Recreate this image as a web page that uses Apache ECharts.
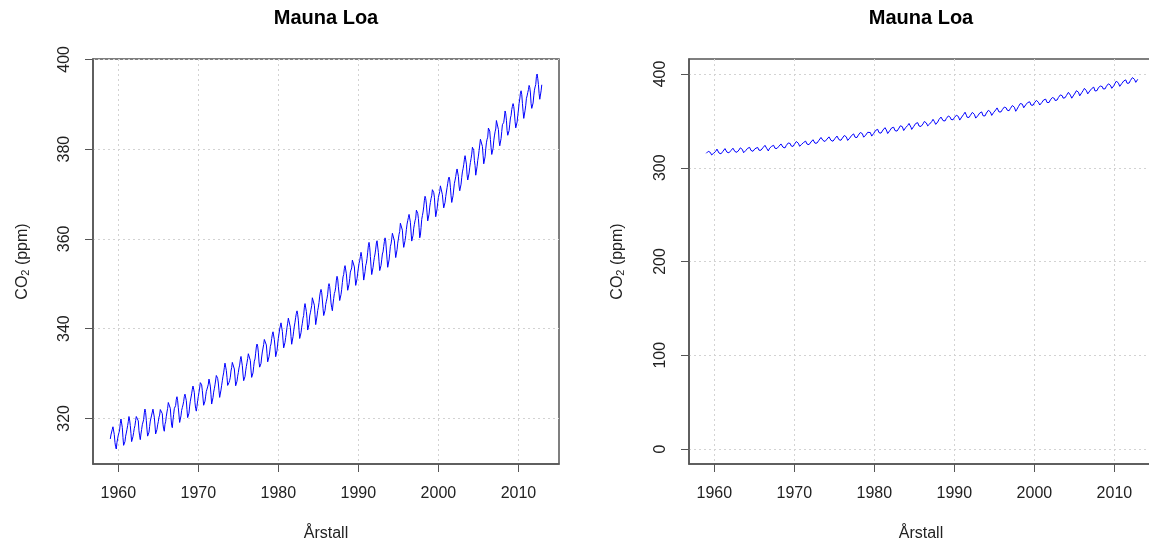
<!DOCTYPE html>
<html>
<head>
<meta charset="utf-8">
<script src="https://cdn.jsdelivr.net/npm/echarts@6/dist/echarts.min.js"></script>
<style>html,body{margin:0;padding:0;background:#fff;overflow:hidden}#c{width:1149px;height:545px}</style>
</head>
<body>
<div id="c"></div>
<script>
// Monthly CO2 at Mauna Loa (ppm), Jan 1959 .. Dec 2012
const startYear = 1959;
const co2 = [
315.42,316.31,316.50,317.56,318.13,318.00,316.39,314.65,313.68,313.18,314.66,315.43,
316.27,316.81,317.42,318.87,319.87,319.43,318.01,315.74,314.00,313.68,314.84,316.03,
316.73,317.54,318.38,319.31,320.42,319.61,318.42,316.63,314.83,315.16,315.94,316.85,
317.78,318.40,319.53,320.42,320.85,320.45,319.45,317.25,316.11,315.27,316.53,317.53,
318.58,318.92,319.70,321.22,322.08,321.31,319.58,317.61,316.05,315.83,316.91,318.20,
319.41,320.07,320.74,321.40,322.06,321.73,320.27,318.54,316.54,316.71,317.53,318.55,
319.27,320.28,320.73,321.97,322.00,321.71,321.05,318.71,317.66,317.14,318.70,319.25,
320.46,321.43,322.23,323.54,323.91,323.59,322.24,320.20,318.48,317.94,319.63,320.87,
322.17,322.34,322.88,324.25,324.83,323.93,322.38,320.76,319.10,319.24,320.56,321.80,
322.40,322.99,323.73,324.86,325.40,325.20,323.98,321.95,320.18,320.09,321.16,322.74,
323.83,324.26,325.47,326.50,327.21,326.54,325.72,323.50,322.22,321.62,322.69,323.95,
324.89,325.82,326.77,327.97,327.91,327.50,326.18,324.53,322.93,322.90,323.85,324.96,
326.01,326.51,327.01,327.62,328.76,328.40,327.20,325.27,323.20,323.40,324.63,325.85,
326.60,327.47,327.58,329.56,329.90,328.92,327.88,326.16,324.68,325.04,326.34,327.39,
328.37,329.40,330.14,331.33,332.31,331.90,330.70,329.15,327.35,327.02,327.99,328.48,
329.18,330.55,331.32,332.48,332.92,332.08,331.01,329.23,327.27,327.21,328.29,329.41,
330.23,331.25,331.87,333.14,333.80,333.43,331.73,329.90,328.40,328.17,329.32,330.59,
331.58,332.39,333.33,334.41,334.71,334.17,332.89,330.77,329.14,328.78,330.14,331.52,
332.75,333.24,334.53,335.90,336.57,336.10,334.76,332.59,331.42,330.98,332.24,333.68,
334.80,335.22,336.47,337.59,337.84,337.72,336.37,334.51,332.60,332.38,333.75,334.78,
336.05,336.59,337.79,338.71,339.30,339.12,337.56,335.92,333.75,333.70,335.12,336.56,
337.84,338.19,339.91,340.60,341.29,341.00,339.39,337.43,335.72,335.84,336.93,338.04,
339.06,340.30,341.21,342.33,342.74,342.08,340.32,338.26,336.52,336.68,338.19,339.44,
340.57,341.44,342.53,343.39,343.96,343.18,341.88,339.65,337.81,337.69,339.09,340.32,
341.20,342.35,342.93,344.77,345.58,345.14,343.81,342.21,339.69,339.82,340.98,342.82,
343.52,344.33,345.11,346.88,347.25,346.62,345.22,343.11,340.90,341.18,342.80,344.04,
344.79,345.82,347.25,348.17,348.74,348.07,346.38,344.51,342.92,342.62,344.06,345.38,
346.11,346.78,347.68,349.37,350.03,349.37,347.76,345.73,344.68,343.99,345.48,346.72,
347.84,348.29,349.23,350.80,351.66,351.07,349.33,347.92,346.27,346.18,347.64,348.78,
350.25,351.54,352.05,353.41,354.04,353.62,352.22,350.27,348.55,348.72,349.91,351.18,
352.60,352.92,353.53,355.26,355.52,354.97,353.75,351.52,349.64,349.83,351.14,352.37,
353.50,354.55,355.23,356.04,357.00,356.07,354.67,352.76,350.82,351.04,352.69,354.07,
354.59,355.63,357.03,358.48,359.22,358.12,356.06,353.92,352.05,352.11,353.64,354.89,
355.88,356.63,357.72,359.07,359.58,359.17,356.94,354.92,352.94,353.23,354.09,355.33,
356.63,357.10,358.32,359.41,360.23,359.55,357.53,355.48,353.67,353.95,355.30,356.78,
358.34,358.89,359.95,361.25,361.67,360.94,359.55,357.49,355.84,356.00,357.59,359.05,
359.98,361.03,361.66,363.48,363.82,363.30,361.94,359.50,358.11,357.80,359.61,360.74,
362.09,363.29,364.06,364.76,365.45,365.01,363.70,361.54,359.51,359.65,360.80,362.38,
363.23,364.06,364.61,366.40,366.84,365.68,364.52,362.57,360.24,360.83,362.49,364.34,
365.18,365.98,367.13,368.61,369.49,368.95,367.74,365.79,364.01,364.35,365.52,367.08,
368.12,368.98,369.60,370.96,370.77,370.33,369.28,366.86,364.94,365.35,366.68,368.04,
369.25,369.50,370.56,371.82,371.51,371.71,369.85,368.20,366.91,366.91,368.16,369.45,
370.44,371.40,372.39,373.32,373.77,373.13,371.51,369.59,368.12,368.38,369.64,371.11,
372.38,373.08,373.87,374.93,375.58,375.44,373.91,371.77,370.72,370.50,372.19,373.71,
374.92,375.63,376.51,377.75,378.54,378.21,376.65,374.28,373.12,373.10,374.67,375.97,
377.03,377.87,378.88,380.42,380.62,379.70,377.43,376.32,374.19,374.47,376.15,377.51,
378.43,379.70,380.91,382.20,382.45,382.14,380.60,378.64,376.73,376.84,378.29,380.06,
381.40,382.20,382.66,384.69,384.94,384.01,382.14,380.31,378.81,379.03,380.17,381.85,
382.94,383.86,384.49,386.37,386.54,385.98,384.36,381.85,380.74,381.15,382.38,383.94,
385.44,385.73,385.97,387.16,388.50,387.88,386.42,384.15,383.09,382.99,384.13,385.56,
386.94,387.48,388.82,389.55,390.14,389.48,388.03,386.11,384.74,384.43,386.02,387.42,
388.71,390.20,391.17,392.46,393.00,392.15,390.20,388.35,386.85,387.24,388.67,389.79,
391.33,391.86,392.60,393.25,394.19,393.74,392.51,390.13,389.08,389.00,390.28,391.86,
393.12,393.86,394.40,396.18,396.74,395.71,394.36,392.39,391.11,391.05,392.98,394.34
];
const xTicks = [1960, 1970, 1980, 1990, 2000, 2010];
const yTicksLeft = [320, 340, 360, 380, 400];
const yTicksRight = [0, 100, 200, 300, 400];
const titleText = 'Mauna Loa';
const xName = 'Årstall';

const points = co2.map((v, i) => [startYear + i / 12, v]);

const FONT = 'Liberation Sans, Arial, sans-serif';
const textCol = '#222';
const boxCol = '#555';

function xAxis(gridIndex, max, namePadRight) {
  return {
    type: 'value', gridIndex, min: 1956.84, max,
    name: xName, nameLocation: 'middle', nameGap: 62,
    nameTextStyle: { fontFamily: FONT, fontSize: 16, color: textCol, padding: [0, namePadRight, 0, 0] },
    axisLine: { show: true, onZero: false, lineStyle: { color: boxCol, width: 1.5 } },
    axisTick: { show: true, inside: false, length: 8, customValues: xTicks, lineStyle: { color: boxCol, width: 1 } },
    axisLabel: { customValues: xTicks, margin: 22, fontFamily: FONT, fontSize: 16, color: textCol, formatter: v => String(v) },
    splitLine: { show: true, lineStyle: { color: '#d3d3d3', type: [2, 3], width: 1 } }
  };
}
function yAxis(gridIndex, min, max, ticks, gap) {
  return {
    type: 'value', gridIndex, min, max,
    name: 'CO{s|2} (ppm)', nameLocation: 'middle', nameGap: gap,
    nameTextStyle: { fontFamily: FONT, fontSize: 16, color: textCol,
      rich: { s: { fontFamily: FONT, fontSize: 11, color: textCol, verticalAlign: 'bottom', lineHeight: 11, padding: [8, 0, 0, 0] } } },
    axisLine: { show: true, onZero: false, lineStyle: { color: boxCol, width: 1.5 } },
    axisTick: { show: true, inside: false, length: 8, customValues: ticks, lineStyle: { color: boxCol, width: 1 } },
    axisLabel: { customValues: ticks, rotate: 90, margin: 20, fontFamily: FONT, fontSize: 16, color: textCol, formatter: v => String(v) },
    splitLine: { show: true, lineStyle: { color: '#d3d3d3', type: [2, 3], width: 1 } }
  };
}

const chart = echarts.init(document.getElementById('c'), null, { renderer: 'canvas' });
chart.setOption({
  animation: false,
  backgroundColor: '#fff',
  graphic: [
    { type: 'text', x: 326, y: 18, style: { text: titleText, font: 'bold 20px ' + FONT, fill: '#000', textAlign: 'center', textVerticalAlign: 'middle' } },
    { type: 'text', x: 921, y: 18, style: { text: titleText, font: 'bold 20px ' + FONT, fill: '#000', textAlign: 'center', textVerticalAlign: 'middle' } }
  ],
  grid: [
    { left: 93, top: 59, width: 466, height: 405, outerBoundsMode: 'none', containLabel: false, show: true, borderColor: boxCol, borderWidth: 1.5, backgroundColor: 'transparent' },
    { left: 689, top: 59, width: 480, height: 405, outerBoundsMode: 'none', containLabel: false, show: true, borderColor: boxCol, borderWidth: 1.5, backgroundColor: 'transparent' }
  ],
  xAxis: [xAxis(0, 2015.07, 0), xAxis(1, 2016.82, 16)],
  yAxis: [yAxis(0, 309.84, 400.08, yTicksLeft, 62), yAxis(1, -16, 416, yTicksRight, 63)],
  series: [
    { type: 'line', xAxisIndex: 0, yAxisIndex: 0, data: points, showSymbol: false, lineStyle: { color: '#0000ff', width: 1 }, itemStyle: { color: '#0000ff' } },
    { type: 'line', xAxisIndex: 1, yAxisIndex: 1, data: points, showSymbol: false, lineStyle: { color: '#0000ff', width: 1 }, itemStyle: { color: '#0000ff' } }
  ]
});
</script>
</body>
</html>
